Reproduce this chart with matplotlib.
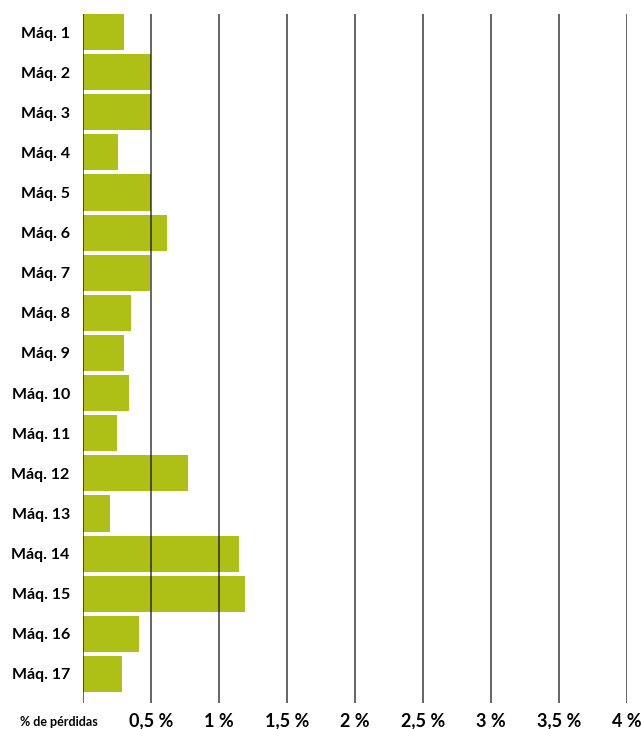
import matplotlib
matplotlib.use("Agg")
import matplotlib.pyplot as plt
import numpy as np

plt.rcParams['font.family'] = ['Lato', 'DejaVu Sans']

# datos
maquinas = ["Máq. %d" % i for i in range(1, 18)]
perdidas = [0.30, 0.50, 0.50, 0.26, 0.50, 0.62, 0.49, 0.35, 0.30, 0.34,
            0.25, 0.77, 0.20, 1.15, 1.19, 0.41, 0.29]
xticks = [0.5, 1, 1.5, 2, 2.5, 3, 3.5, 4]
xlabels = ["0,5 %", "1 %", "1,5 %", "2 %", "2,5 %", "3 %", "3,5 %", "4 %"]

fig = plt.figure(figsize=(6.41, 7.29), dpi=100)
ax = fig.add_axes([83/641, 26/729, 544/641, 689/729])

y = np.arange(len(maquinas))
ax.barh(y, perdidas, height=0.9, color="#aebf16", zorder=1)

# lineas verticales encima de las barras
for xv in [0] + xticks:
    ax.axvline(xv, color="black", alpha=0.7, linewidth=1.2, zorder=2)

ax.set_xlim(0, 4)
ax.set_ylim(16.725, -0.45)
ax.set_yticks(y)
ax.set_yticklabels(maquinas, fontsize=11.5, fontweight="bold")
ax.set_xticks(xticks)
ax.set_xticklabels(xlabels, fontsize=13, fontweight="bold")
ax.tick_params(axis="both", length=0)
ax.tick_params(axis="x", pad=7)
ax.tick_params(axis="y", pad=9.5)
for s in ax.spines.values():
    s.set_visible(False)

fig.text(59/641, 1 - 722/729, "% de pérdidas", fontsize=9, fontweight="bold",
         ha="center", va="center")

plt.savefig("out.png", dpi=100)
